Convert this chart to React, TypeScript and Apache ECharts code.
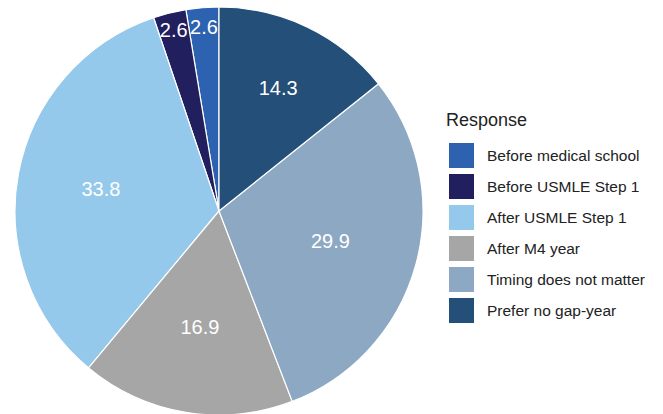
import React, { useEffect, useRef } from "react";
import * as echarts from "echarts";

// Survey responses: preferred timing of a gap year (percent)
const categories = [
  "Before medical school",
  "Before USMLE Step 1",
  "After USMLE Step 1",
  "After M4 year",
  "Timing does not matter",
  "Prefer no gap-year",
];
const percents = [2.6, 2.6, 33.8, 16.9, 29.9, 14.3];
const legendTitle = "Response";

const colors = ["#2c62b0", "#221f5e", "#95c9eb", "#a6a6a6", "#8da8c2", "#234f78"];

// pie geometry (px) and where each value label sits, as a fraction of the radius
const CENTER = [219, 211];
const R = 204;
const LABEL_FRACTION = [0.89, 0.9, 0.574, 0.563, 0.551, 0.654];
const FONT = "'Liberation Sans', Arial, Helvetica, sans-serif";

export default function App() {
  const ref = useRef<HTMLDivElement>(null);

  useEffect(() => {
    if (!ref.current) return;
    const chart = echarts.init(ref.current, undefined, { renderer: "svg" });

    const data = categories.map((name, i) => ({ name, value: percents[i] }));

    // main pie, no labels
    const mainSeries: any = {
      type: "pie",
      name: "main",
      center: CENTER,
      radius: [0, R],
      startAngle: 90,
      clockwise: false,
      data,
      color: colors,
      itemStyle: { borderColor: "#ffffff", borderWidth: 1.2 },
      label: { show: false },
      labelLine: { show: false },
      emphasis: { disabled: true },
    };

    // transparent overlays: each carries one slice's label at its own distance
    const labelSeries = categories.map((_, i) => ({
      type: "pie",
      name: "label" + i,
      center: CENTER,
      radius: [0, 2 * LABEL_FRACTION[i] * R],
      startAngle: 90,
      clockwise: false,
      silent: true,
      legendHoverLink: false,
      z: 3,
      data: categories.map((name, j) => ({
        name,
        value: percents[j],
        itemStyle: { color: "rgba(0,0,0,0)", borderWidth: 0 },
        label: { show: j === i },
      })),
      label: {
        position: "inside",
        formatter: "{c}",
        color: "#ffffff",
        fontSize: 20,
        fontFamily: FONT,
      },
      labelLine: { show: false },
      emphasis: { disabled: true },
    }));

    chart.setOption({
      animation: false,
      backgroundColor: "#ffffff",
      title: {
        text: legendTitle,
        left: 446,
        top: 111,
        padding: 0,
        textStyle: {
          fontFamily: FONT,
          fontSize: 18,
          fontWeight: "normal",
          color: "#222222",
        },
      },
      legend: {
        orient: "vertical",
        left: 447,
        top: 141,
        padding: 0,
        itemWidth: 27,
        itemHeight: 27,
        itemGap: 2,
        icon: "rect",
        data: categories,
        selectedMode: false,
        textStyle: {
          fontFamily: FONT,
          fontSize: 15.5,
          lineHeight: 16,
          color: "#222222",
          padding: [0, 0, 0, 7],
        },
      },
      series: [mainSeries, ...labelSeries],
    });

    return () => chart.dispose();
  }, []);

  return (
    <div
      ref={ref}
      style={{ position: "fixed", left: 0, top: 0, width: 663, height: 414 }}
    />
  );
}
